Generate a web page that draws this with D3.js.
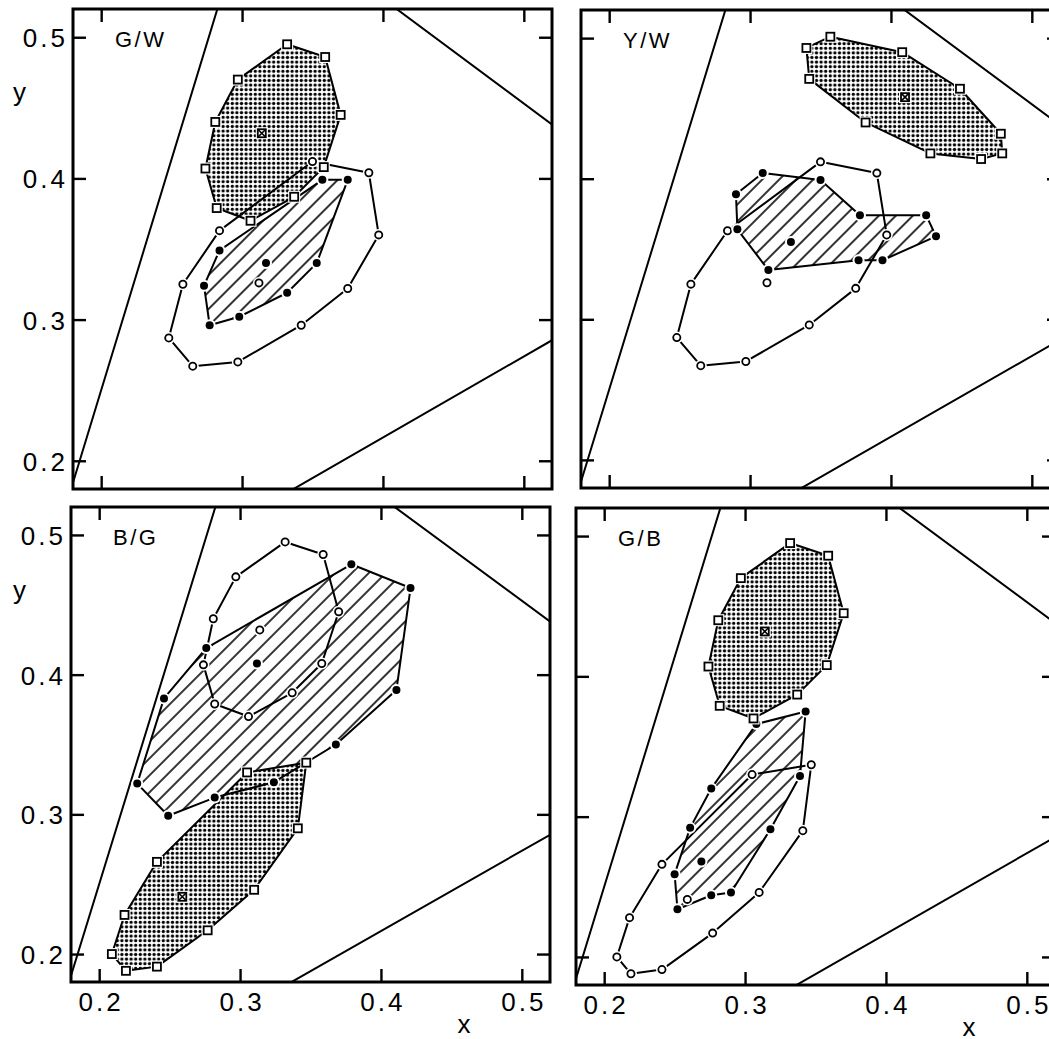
<!DOCTYPE html>
<html lang="en">
<head>
<meta charset="UTF-8">
<title>Chromaticity panels</title>
<script src="https://cdn.jsdelivr.net/npm/d3@7"></script>
<style>
  body { margin: 0; background: #fff; }
  text { font-family: "Liberation Sans", Arial, sans-serif; fill: #000; }
</style>
</head>
<body>
<script>
// both axes use the same range
var domain = [0.18, 0.52];
var ticks = [0.2, 0.3, 0.4, 0.5];
var panelLabels = ['G/W', 'Y/W', 'B/G', 'G/B'];

// display gamut (R, G, B corners)
var gamut = [[0.636, 0.352], [0.306, 0.597], [0.145, 0.070]];

// reference colours: boundary points and centre
var white = [[0.350, 0.412], [0.390, 0.404], [0.397, 0.360], [0.375, 0.322], [0.342, 0.296],
             [0.297, 0.270], [0.265, 0.267], [0.248, 0.287], [0.258, 0.325], [0.284, 0.363]];
var whiteC = [0.312, 0.326];
var green = [[0.332, 0.495], [0.359, 0.486], [0.370, 0.445], [0.358, 0.408], [0.337, 0.387],
             [0.306, 0.370], [0.282, 0.379], [0.274, 0.407], [0.281, 0.440], [0.297, 0.470]];
var greenC = [0.314, 0.432];
var yellow = [[0.357, 0.501], [0.408, 0.490], [0.449, 0.464], [0.478, 0.432], [0.479, 0.418],
              [0.464, 0.414], [0.428, 0.418], [0.382, 0.440], [0.342, 0.471], [0.340, 0.493]];
var yellowC = [0.410, 0.458];
var blue = [[0.347, 0.337], [0.341, 0.290], [0.310, 0.246], [0.277, 0.217], [0.241, 0.191],
            [0.219, 0.188], [0.209, 0.200], [0.218, 0.228], [0.241, 0.266], [0.305, 0.330]];
var blueC = [0.259, 0.241];

// mixed conditions (hatched)
var gwMix = [[0.357, 0.399], [0.375, 0.399], [0.353, 0.340], [0.332, 0.319], [0.298, 0.302],
             [0.277, 0.296], [0.273, 0.324], [0.284, 0.349]];
var gwC = [0.317, 0.340];
var ywMix = [[0.290, 0.389], [0.309, 0.404], [0.350, 0.399], [0.378, 0.374], [0.425, 0.374],
             [0.432, 0.359], [0.394, 0.342], [0.377, 0.342], [0.313, 0.335], [0.291, 0.364]];
var ywC = [0.329, 0.355];
var bgMix = [[0.379, 0.479], [0.421, 0.462], [0.411, 0.389], [0.368, 0.350], [0.324, 0.323],
             [0.282, 0.312], [0.249, 0.299], [0.227, 0.322], [0.246, 0.383], [0.276, 0.419]];
var bgC = [0.312, 0.408];
var gbMix = [[0.343, 0.375], [0.339, 0.329], [0.318, 0.291], [0.290, 0.246], [0.276, 0.244],
             [0.252, 0.234], [0.250, 0.259], [0.261, 0.292], [0.276, 0.320], [0.308, 0.366]];
var gbC = [0.269, 0.268];

var panels = [
    {dotted: green, dottedC: greenC, hatched: gwMix, hatchedC: gwC, open: white, openC: whiteC},
    {dotted: yellow, dottedC: yellowC, hatched: ywMix, hatchedC: ywC, open: white, openC: whiteC},
    {dotted: blue, dottedC: blueC, hatched: bgMix, hatchedC: bgC, open: green, openC: greenC},
    {dotted: green, dottedC: greenC, hatched: gbMix, hatchedC: gbC, open: blue, openC: blueC}
];

// where each panel sits on the page
var boxes = [
    {x: 73, y: 9, w: 479, h: 480, left: true, bottom: false},
    {x: 581, y: 10, w: 479, h: 478, left: false, bottom: false},
    {x: 71, y: 507, w: 479, h: 475, left: true, bottom: true},
    {x: 576, y: 508, w: 479, h: 477, left: false, bottom: true}
];

var svg = d3.select('body').append('svg')
    .attr('width', 1049).attr('height', 1039);

var defs = svg.append('defs');
var dots = defs.append('pattern').attr('id', 'dots')
    .attr('patternUnits', 'userSpaceOnUse').attr('width', 4.6).attr('height', 4.6);
dots.append('rect').attr('width', 4.6).attr('height', 4.6).attr('fill', '#fff');
dots.append('circle').attr('cx', 2.3).attr('cy', 2.3).attr('r', 1.65).attr('fill', '#000');

var hatch = defs.append('pattern').attr('id', 'hatch')
    .attr('patternUnits', 'userSpaceOnUse').attr('width', 12).attr('height', 12)
    .attr('patternTransform', 'rotate(45)');
hatch.append('rect').attr('width', 12).attr('height', 12).attr('fill', '#fff');
hatch.append('line').attr('x1', 6).attr('y1', 0).attr('x2', 6).attr('y2', 12)
    .attr('stroke', '#000').attr('stroke-width', 1.6);

function drawMarkers(g, pts, kind, x, y) {
    pts.forEach(function (d) {
        var cx = x(d[0]), cy = y(d[1]);
        if (kind === 'square') {
            g.append('rect').attr('x', cx - 6).attr('y', cy - 6).attr('width', 12).attr('height', 12)
                .attr('fill', '#fff');
            g.append('rect').attr('x', cx - 4).attr('y', cy - 4).attr('width', 8).attr('height', 8)
                .attr('fill', '#fff').attr('stroke', '#000').attr('stroke-width', 1.8);
        } else {
            g.append('circle').attr('cx', cx).attr('cy', cy).attr('r', 6).attr('fill', '#fff');
            g.append('circle').attr('cx', cx).attr('cy', cy)
                .attr('r', kind === 'filled' ? 4 : 3.6)
                .attr('fill', kind === 'filled' ? '#000' : '#fff')
                .attr('stroke', '#000').attr('stroke-width', kind === 'filled' ? 0 : 1.8);
        }
    });
}

panels.forEach(function (p, i) {
    var b = boxes[i];
    var xScale = d3.scaleLinear().domain(domain).range([b.x, b.x + b.w]);
    var yScale = d3.scaleLinear().domain(domain).range([b.y + b.h, b.y]);
    var line = d3.line().x(function (d) { return xScale(d[0]); }).y(function (d) { return yScale(d[1]); });

    defs.append('clipPath').attr('id', 'clip' + i)
        .append('rect').attr('x', b.x).attr('y', b.y).attr('width', b.w).attr('height', b.h);

    var g = svg.append('g').attr('clip-path', 'url(#clip' + i + ')');

    // gamut triangle
    g.append('path').attr('d', line(gamut) + 'Z')
        .attr('fill', 'none').attr('stroke', '#000').attr('stroke-width', 2);

    // filled areas
    g.append('path').attr('d', line(p.hatched) + 'Z').attr('fill', 'url(#hatch)');
    g.append('path').attr('d', line(p.dotted) + 'Z').attr('fill', 'url(#dots)');

    // outlines
    [p.open, p.hatched, p.dotted].forEach(function (pts) {
        g.append('path').attr('d', line(pts) + 'Z')
            .attr('fill', 'none').attr('stroke', '#000').attr('stroke-width', 2)
            .attr('stroke-linejoin', 'round');
    });

    // markers
    drawMarkers(g, p.open.concat([p.openC]), 'open', xScale, yScale);
    drawMarkers(g, p.hatched.concat([p.hatchedC]), 'filled', xScale, yScale);
    drawMarkers(g, p.dotted.concat([p.dottedC]), 'square', xScale, yScale);
    // cross in centre square
    var c = p.dottedC;
    g.append('path')
        .attr('d', 'M' + (xScale(c[0]) - 4) + ',' + (yScale(c[1]) - 4) + 'l8,8m0,-8l-8,8')
        .attr('stroke', '#000').attr('stroke-width', 1.6);

    // axes, ticks pointing inward
    var axes = [
        {a: d3.axisBottom(xScale), t: 'translate(0,' + (b.y + b.h) + ')', lab: b.bottom},
        {a: d3.axisTop(xScale), t: 'translate(0,' + b.y + ')', lab: false},
        {a: d3.axisLeft(yScale), t: 'translate(' + b.x + ',0)', lab: b.left},
        {a: d3.axisRight(yScale), t: 'translate(' + (b.x + b.w) + ',0)', lab: false}
    ];
    axes.forEach(function (ax, k) {
        var axG = svg.append('g').attr('transform', ax.t)
            .call(ax.a.tickValues(ticks).tickSize(-13).tickSizeOuter(0)
                .tickFormat(ax.lab ? d3.format('.1f') : ''));
        axG.select('.domain').remove();
        axG.selectAll('.tick line').attr('stroke', '#000').attr('stroke-width', 2.4);
        axG.attr('font-size', null).attr('font-family', null);
        var t = axG.selectAll('.tick text')
            .style('font-size', '26px').style('letter-spacing', '3px').attr('fill', '#000');
        if (k === 0) t.attr('y', 29).attr('dy', null).attr('x', 1.5);
        if (k === 2) t.attr('x', -5).attr('dy', null).attr('y', 9.5);
    });

    // frame
    svg.append('rect').attr('x', b.x).attr('y', b.y).attr('width', b.w).attr('height', b.h)
        .attr('fill', 'none').attr('stroke', '#000').attr('stroke-width', 3);

    // panel label
    svg.append('text').attr('x', b.x + 42).attr('y', b.y + 38)
        .style('font-size', '22px').style('letter-spacing', '2.5px').text(panelLabels[i]);

    if (b.left) {
        svg.append('text').attr('x', 13).attr('y', b.y + 92)
            .style('font-size', '26px').text('y');
    }
    if (b.bottom) {
        svg.append('text').attr('x', xScale(0.459)).attr('y', b.y + b.h + 51)
            .attr('text-anchor', 'middle').style('font-size', '26px').text('x');
    }
});
</script>
</body>
</html>
